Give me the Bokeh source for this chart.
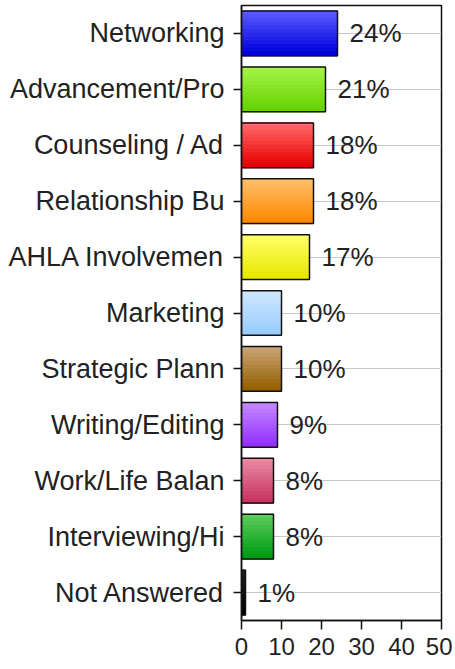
from bokeh.plotting import figure
from bokeh.models import ColumnDataSource, Range1d, FixedTicker
from bokeh.core.properties import value
from bokeh.embed import file_html
from bokeh.resources import INLINE

categories = ["Networking", "Advancement/Pro", "Counseling / Ad", "Relationship Bu",
              "AHLA Involvemen", "Marketing", "Strategic Plann", "Writing/Editing",
              "Work/Life Balan", "Interviewing/Hi", "Not Answered"]
percents = [24, 21, 18, 18, 17, 10, 10, 9, 8, 8, 1]
x_ticks = [0, 10, 20, 30, 40, 50]

top_colors = ["#5a5aff", "#a6f24a", "#ff6a6a", "#ffbe6a", "#ffff6a", "#cfe8ff",
              "#c9a476", "#c288ff", "#e88aa2", "#5ccc5c", "#222222"]
bottom_colors = ["#0000dd", "#66d400", "#e80000", "#ff8a00", "#e8e800", "#99ccff",
                 "#946000", "#9430ff", "#c83462", "#009a14", "#000000"]

FONT = "Liberation Sans"
n = len(categories)
pos = [n - 1 - i for i in range(n)]
BAR_H = 0.8
SLICES = 12


def hex2rgb(h):
    h = h.lstrip("#")
    return tuple(int(h[k:k + 2], 16) for k in (0, 2, 4))


def mix(a, b, t):
    ra, rb = hex2rgb(a), hex2rgb(b)
    return "#%02x%02x%02x" % tuple(round(ra[k] + (rb[k] - ra[k]) * t) for k in range(3))


p = figure(width=452, height=668, output_backend="svg", toolbar_location=None,
           x_range=Range1d(0, 50), y_range=Range1d(-0.5, n - 0.5),
           min_border_left=241, min_border_right=11, min_border_top=5, min_border_bottom=48)

# gradient slices
gy, gr, gc = [], [], []
sh = BAR_H / SLICES
for i in range(n):
    for j in range(SLICES):
        gy.append(pos[i] + BAR_H / 2 - (j + 0.5) * sh)
        gr.append(percents[i])
        gc.append(mix(top_colors[i], bottom_colors[i], j / (SLICES - 1)))
p.hbar(y="y", right="r", left=0, height=sh * 1.05, color="c",
       source=ColumnDataSource(dict(y=gy, r=gr, c=gc)))

src = ColumnDataSource(dict(y=pos, r=percents, lab=[f"{v}%" for v in percents]))
p.hbar(y="y", right="r", left=0, height=BAR_H, fill_color=None,
       line_color="#111111", line_width=1.5, source=src)
p.text(x="r", y="y", text="lab", source=src, x_offset=12, text_align="left",
       text_baseline="middle", text_font=value(FONT), text_font_size="26px",
       text_color="#222222")

p.xgrid.visible = False
p.ygrid.ticker = FixedTicker(ticks=pos)
p.ygrid.grid_line_color = "#c8c8c8"
p.ygrid.grid_line_width = 1

p.xaxis.ticker = FixedTicker(ticks=x_ticks)
p.yaxis.ticker = FixedTicker(ticks=pos)
p.yaxis.major_label_overrides = {pos[i]: categories[i] for i in range(n)}
for ax in (p.xaxis, p.yaxis):
    ax.major_tick_in = 0
    ax.major_tick_out = 8
    ax.minor_tick_line_color = None
    ax.axis_line_color = "#111111"
    ax.axis_line_width = 1.5
    ax.major_tick_line_color = "#111111"
    ax.major_tick_line_width = 1.5
    ax.major_label_text_font = FONT
    ax.major_label_text_color = "#222222"
p.yaxis.major_label_text_font_size = "27px"
p.yaxis.major_label_standoff = 9
p.xaxis.major_tick_out = 9
p.xaxis.major_label_text_font_size = "24px"
p.xaxis.major_label_standoff = 8

p.outline_line_color = "#111111"
p.outline_line_width = 1.5
p.outline_line_alpha = 1
p.background_fill_color = "white"
p.border_fill_color = "white"

open("out.html", "w").write(file_html(p, INLINE))
